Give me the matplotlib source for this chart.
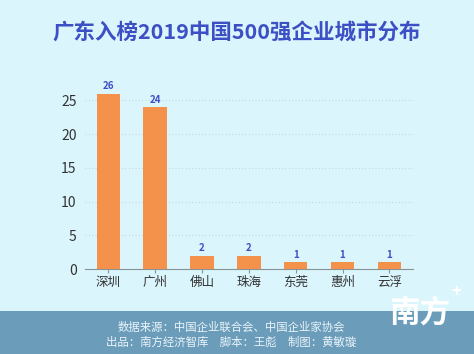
import matplotlib
matplotlib.use("Agg")
from matplotlib import pyplot as plt
from matplotlib.patches import Rectangle

plt.rcParams['font.family'] = ['Noto Sans CJK SC', 'DejaVu Sans']

cities = ['深圳', '广州', '佛山', '珠海', '东莞', '惠州', '云浮']
counts = [26, 24, 2, 2, 1, 1, 1]
yticks = [0, 5, 10, 15, 20, 25]

bg = '#DAF5FC'
bar_color = '#F4924C'
blue = '#3C4FC4'

fig = plt.figure(figsize=(4.74, 3.54), dpi=100)
fig.patch.set_facecolor(bg)

# footer band
fig.patches.append(Rectangle((0, 0), 1, 43 / 354, transform=fig.transFigure,
                             facecolor='#6B9DBB', edgecolor='none', zorder=0))
fig.text(0.488, 0.075, '数据来源：中国企业联合会、中国企业家协会', ha='center', va='center',
         fontsize=8.2, color='#EAF4FA')
fig.text(0.488, 0.034, '出品：南方经济智库　脚本：王彪　制图：黄敏璇', ha='center', va='center',
         fontsize=8.2, color='#EAF4FA')
# logo
fig.text(0.885, 0.118, '南方', ha='center', va='center', fontsize=22,
         fontweight='bold', color='white')
fig.text(0.962, 0.175, '+', ha='center', va='center', fontsize=12,
         fontweight='bold', color='white')

fig.text(0.5, 0.906, '广东入榜2019中国500强企业城市分布', ha='center', va='center',
         fontsize=15.5, fontweight='bold', color=blue)

ax = fig.add_axes([0.179, 0.240, 0.692, 0.534])
ax.set_facecolor(bg)
x = range(len(cities))
ax.bar(x, counts, width=0.5, color=bar_color, zorder=3)
for xi, v in zip(x, counts):
    ax.text(xi, v + 0.35, str(v), ha='center', va='bottom', fontsize=7,
            fontweight='bold', color=blue)

ax.set_xlim(-0.5, 6.5)
ax.set_ylim(0, 28)
ax.set_yticks(yticks)
ax.set_xticks(list(x))
ax.set_xticklabels(cities)
ax.yaxis.grid(True, linestyle=(0, (1, 2)), color='#C5D8DE', linewidth=0.8, zorder=0)
for s in ['top', 'right', 'left']:
    ax.spines[s].set_visible(False)
ax.spines['bottom'].set_color('#8A9498')
ax.tick_params(axis='y', length=0, labelsize=10, colors='#333333', pad=6)
ax.tick_params(axis='x', length=3, color='#8A9498', labelsize=9, labelcolor='#333333', pad=2)

plt.savefig('out.png', dpi=100, facecolor=bg)
